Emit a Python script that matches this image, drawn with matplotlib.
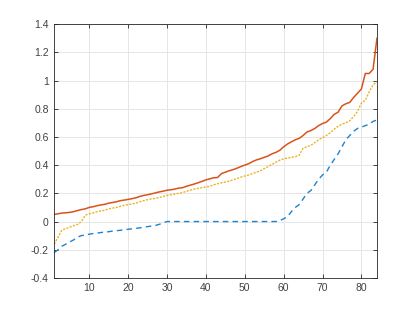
import numpy as np
import matplotlib
matplotlib.use("Agg")
import matplotlib.pyplot as plt

# sorted values, one per index 1..84
blue = [-0.22, -0.2, -0.175, -0.16, -0.145, -0.13, -0.11, -0.1, -0.095, -0.09,
        -0.085, -0.082, -0.078, -0.075, -0.072, -0.068, -0.065, -0.062, -0.058, -0.055,
        -0.052, -0.048, -0.045, -0.04, -0.036, -0.032, -0.028, -0.02, -0.01, 0.0,
        0.0, 0.0, 0.0, 0.0, 0.0, 0.0, 0.0, 0.0, 0.0, 0.0,
        0.0, 0.0, 0.0, 0.0, 0.0, 0.0, 0.0, 0.0, 0.0, 0.0,
        0.0, 0.0, 0.0, 0.0, 0.0, 0.0, 0.0, 0.0, 0.005, 0.02,
        0.035, 0.07, 0.1, 0.12, 0.16, 0.2, 0.22, 0.26, 0.3, 0.33,
        0.35, 0.4, 0.44, 0.48, 0.53, 0.58, 0.61, 0.64, 0.66, 0.67,
        0.68, 0.69, 0.71, 0.72]
orange = [0.05, 0.055, 0.06, 0.062, 0.065, 0.07, 0.078, 0.085, 0.09, 0.1,
          0.105, 0.112, 0.118, 0.122, 0.13, 0.135, 0.14, 0.148, 0.152, 0.157,
          0.162, 0.168, 0.178, 0.185, 0.19, 0.196, 0.203, 0.21, 0.215, 0.222,
          0.225, 0.23, 0.237, 0.24, 0.25, 0.258, 0.266, 0.275, 0.285, 0.295,
          0.303, 0.31, 0.312, 0.34, 0.35, 0.36, 0.368, 0.378, 0.39, 0.4,
          0.41, 0.425, 0.437, 0.445, 0.455, 0.465, 0.48, 0.49, 0.505, 0.53,
          0.55, 0.565, 0.58, 0.59, 0.61, 0.635, 0.645, 0.66, 0.68, 0.695,
          0.705, 0.73, 0.76, 0.775, 0.82, 0.835, 0.845, 0.88, 0.91, 0.94,
          1.05, 1.05, 1.08, 1.3]
yellow = [-0.16, -0.11, -0.06, -0.05, -0.04, -0.03, -0.02, 0.0, 0.045, 0.055,
          0.06, 0.07, 0.075, 0.08, 0.09, 0.095, 0.1, 0.108, 0.115, 0.12,
          0.125, 0.13, 0.14, 0.148, 0.155, 0.16, 0.165, 0.17, 0.178, 0.185,
          0.19, 0.195, 0.2, 0.205, 0.215, 0.222, 0.23, 0.235, 0.24, 0.245,
          0.25, 0.26, 0.268, 0.275, 0.28, 0.287, 0.295, 0.305, 0.315, 0.323,
          0.33, 0.34, 0.35, 0.36, 0.375, 0.39, 0.405, 0.42, 0.435, 0.445,
          0.45, 0.455, 0.46, 0.47, 0.52, 0.53, 0.54, 0.56, 0.58, 0.595,
          0.61, 0.63, 0.655, 0.675, 0.69, 0.7, 0.715, 0.745, 0.78, 0.84,
          0.86, 0.92, 0.97, 0.99]
x = np.arange(1, len(blue) + 1)

xticks = [10, 20, 30, 40, 50, 60, 70, 80]
yticks = [-0.4, -0.2, 0, 0.2, 0.4, 0.6, 0.8, 1, 1.2, 1.4]
ylabels = ["-0.4", "-0.2", "0", "0.2", "0.4", "0.6", "0.8", "1", "1.2", "1.4"]

plt.rcParams['font.family'] = ['Liberation Sans', 'DejaVu Sans']
plt.rcParams['axes.unicode_minus'] = False

fig = plt.figure(figsize=(4.17, 3.13), dpi=100)
ax = fig.add_axes([0.13, 0.112, 0.774, 0.811])

ax.plot(x, blue, color='#1f82cc', lw=1.0, ls=(0, (4, 3)))
ax.plot(x, orange, color='#D95319', lw=1.1, ls='-')
ax.plot(x, yellow, color='#EDB120', lw=1.0, ls=(0, (1.5, 1)))

ax.set_xlim(1, 84)
ax.set_ylim(-0.4, 1.4)
ax.set_xticks(xticks)
ax.set_yticks(yticks)
ax.set_yticklabels(ylabels)
ax.grid(True, color='#e6e6e6', lw=0.7)
ax.set_axisbelow(True)
for s in ax.spines.values():
    s.set_color('#262626')
    s.set_linewidth(0.6)
ax.tick_params(direction='in', length=3, width=0.6, colors='#262626',
               labelsize=7.5, top=True, right=True, pad=4)
for lab in ax.get_xticklabels() + ax.get_yticklabels():
    lab.set_color('#404040')

fig.savefig('out.png', dpi=100)
